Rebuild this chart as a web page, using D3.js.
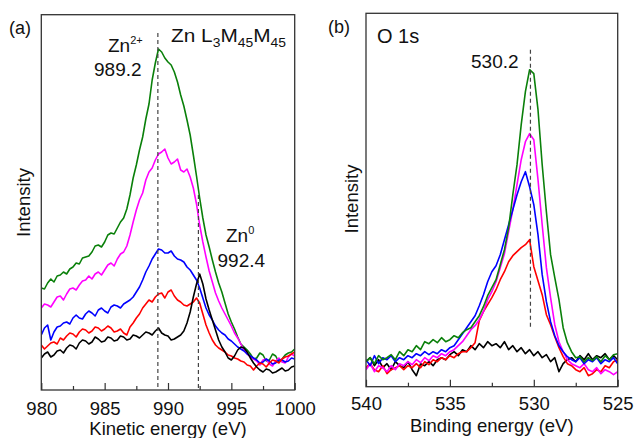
<!DOCTYPE html>
<html>
<head>
<meta charset="utf-8">
<script src="https://cdn.jsdelivr.net/npm/d3@7"></script>
<style>
  body { margin: 0; background: #fff; }
  svg { display: block; font-family: "Liberation Sans", Arial, sans-serif; }
</style>
</head>
<body>
<script>
// (a) Zn LMM Auger, kinetic energy grid 980..1000 eV, step 0.25
const energyA = d3.range(0, 81).map(i => 980 + i * 0.25);
const greenA   = [102,101,107,111,108,114,115,118,116,121,123,127,126,132,133,134,138,144,145,143,148,155,157,156,162,168,172,181,195,212,225,240,253,271,286,310,327,341,338,332,328,325,318,308,295,284,270,255,235,214,192,172,155,143,130,118,107,98,87,76,68,61,53,46,43,40,36,31,32,37,35,29,30,36,34,28,31,35,37,38,41];
const magentaA = [82,86,85,83,88,93,94,90,96,101,102,100,105,109,110,114,111,116,118,115,120,125,127,124,131,136,138,144,155,168,180,190,197,210,218,222,230,236,238,241,232,226,228,231,220,218,221,213,202,186,165,148,133,119,108,97,89,82,76,70,64,57,52,46,40,36,33,31,29,25,30,31,26,24,29,32,28,27,33,36,34];
const blueA    = [55,62,65,50,58,63,64,67,68,66,72,75,72,71,76,79,77,74,80,82,79,77,83,85,84,82,86,88,90,93,98,103,110,118,124,131,136,141,140,137,137,139,134,131,130,128,123,120,115,110,102,92,82,75,70,64,60,57,55,51,49,46,43,41,39,36,34,32,30,27,28,31,29,26,27,30,30,28,29,32,31];
const redA     = [45,41,44,47,48,46,52,50,54,57,56,53,58,61,60,57,59,63,62,59,61,64,62,58,59,61,57,55,63,67,72,76,82,86,90,88,93,96,97,92,98,100,94,90,88,85,84,86,88,92,87,76,65,57,50,45,42,40,38,35,34,32,31,29,28,25,24,20,24,27,26,23,27,30,29,27,31,33,34,36,38];
const blackA   = [32,36,38,33,35,39,40,37,42,45,44,41,47,50,49,46,48,53,51,48,49,53,52,49,50,54,53,50,51,55,54,52,55,58,57,55,59,62,57,55,54,50,51,53,55,59,67,78,93,106,116,106,91,80,70,60,50,43,38,32,30,34,40,43,42,38,32,27,23,20,18,21,20,17,18,20,22,19,20,23,24];
const ticksA = [980, 985, 990, 995, 1000];
const minorA = [982.5, 987.5, 992.5, 997.5];

// (b) O 1s, binding energy grid 540..525 eV, step 0.25
const energyB = d3.range(0, 61).map(i => 540 - i * 0.25);
const greenB   = [25,29,23,31,27,29,32,27,35,31,37,35,41,37,45,43,47,44,49,45,47,51,49,54,57,59,65,71,80,91,99,107,122,137,159,192,222,262,295,317,313,277,222,175,132,109,87,59,44,35,29,30,25,29,26,30,25,31,27,32,33];
const magentaB = [17,23,15,21,19,15,21,17,23,21,25,22,27,24,29,26,31,29,33,31,35,37,41,45,51,57,61,67,75,87,95,105,119,133,155,177,202,227,245,253,247,207,162,119,89,62,45,35,27,23,21,19,23,17,15,19,13,17,15,12,15];
const blueB    = [27,21,31,23,29,27,31,25,29,27,31,29,33,31,35,32,35,33,37,35,39,41,47,53,59,65,71,81,92,105,115,121,132,147,162,177,192,205,215,200,182,152,112,85,65,51,41,35,30,27,25,29,23,27,25,29,23,27,25,29,23];
const redB     = [19,23,17,15,21,13,17,19,21,17,21,19,23,19,25,22,27,25,29,27,31,29,33,35,35,39,44,66,75,82,89,97,107,115,125,131,135,139,142,147,120,106,92,72,62,50,39,30,23,21,17,15,19,11,13,17,15,21,19,25,27];
const blackB   = [25,29,21,27,19,23,17,25,21,19,25,17,11,23,21,25,21,27,29,27,32,35,31,37,35,41,37,43,39,45,41,43,39,45,37,41,35,39,33,37,31,35,29,32,25,29,15,23,27,29,25,31,27,33,27,31,29,33,27,31,27];
const ticksB = [540, 535, 530, 525];
const minorB = [537.5, 532.5, 527.5];

const svg = d3.select('body').append('svg')
  .attr('width', 635)
  .attr('height', 438);

function drawPanel(p) {
  const x = d3.scaleLinear().domain(p.xDomain).range([p.left, p.right]);
  const y = d3.scaleLinear().domain([0, p.yMax]).range([p.bottom, p.top]);
  const g = svg.append('g');

  g.append('clipPath').attr('id', p.id)
    .append('rect')
    .attr('x', p.left).attr('y', p.top)
    .attr('width', p.right - p.left).attr('height', p.bottom - p.top);

  const line = d3.line()
    .x((d, i) => x(p.energy[i]))
    .y(d => y(d));

  g.append('g').attr('clip-path', `url(#${p.id})`)
    .selectAll('path')
    .data(p.series)
    .enter().append('path')
    .attr('d', s => line(s.values))
    .attr('fill', 'none')
    .attr('stroke', s => s.color)
    .attr('stroke-width', 1.6)
    .attr('stroke-linejoin', 'round');

  // dashed peak markers
  p.marks.forEach(m => {
    g.append('line')
      .attr('x1', x(m.e)).attr('x2', x(m.e))
      .attr('y1', y(m.from)).attr('y2', y(m.to))
      .attr('stroke', '#444')
      .attr('stroke-width', 1.2)
      .attr('stroke-dasharray', '4,3');
  });

  const major = g.append('g')
    .attr('transform', `translate(0,${p.bottom})`)
    .call(d3.axisBottom(x).tickValues(p.ticks).tickSize(-7).tickSizeOuter(0)
      .tickPadding(p.pad).tickFormat(d3.format('d')));
  const minor = g.append('g')
    .attr('transform', `translate(0,${p.bottom})`)
    .call(d3.axisBottom(x).tickValues(p.minor).tickSize(-4).tickSizeOuter(0).tickFormat(''));
  [major, minor].forEach(a => {
    a.select('.domain').remove();
    a.selectAll('line').attr('stroke', '#333').attr('stroke-width', 1.2);
  });
  major.selectAll('text')
    .attr('fill', '#111')
    .style('font-size', '18.5px')
    .style('font-family', '"Liberation Sans", Arial, sans-serif');

  g.append('rect')
    .attr('x', p.left).attr('y', p.top)
    .attr('width', p.right - p.left).attr('height', p.bottom - p.top)
    .attr('fill', 'none')
    .attr('stroke', '#333')
    .attr('stroke-width', 1.3);

  g.append('text')
    .attr('x', (p.left + p.right) / 2).attr('y', p.titleY)
    .attr('text-anchor', 'middle')
    .style('font-size', '18.5px')
    .attr('fill', '#111')
    .text(p.xTitle);

  g.append('text')
    .attr('transform', `translate(${p.yLabelX},${p.yLabelY}) rotate(-90)`)
    .attr('text-anchor', 'middle')
    .style('font-size', '18.5px')
    .attr('fill', '#111')
    .text('Intensity');
}

drawPanel({
  id: 'clipA', energy: energyA, xDomain: [980, 1000], yMax: 375.3,
  left: 41.3, right: 294.7, top: 14.7, bottom: 390, pad: 12,
  ticks: ticksA, minor: minorA,
  series: [
    { color: '#0a800a', values: greenA },
    { color: '#ff00ff', values: magentaA },
    { color: '#0000ff', values: blueA },
    { color: '#ff0000', values: redA },
    { color: '#000000', values: blackA }
  ],
  marks: [{ e: 989.2, from: 357, to: 0 }, { e: 992.4, from: 195, to: 0 }],
  xTitle: 'Kinetic energy (eV)', titleY: 435,
  yLabelX: 29.5, yLabelY: 202.5
});

drawPanel({
  id: 'clipB', energy: energyB, xDomain: [540, 525], yMax: 373.4,
  left: 366, right: 617.7, top: 13.3, bottom: 386.7, pad: 10.5,
  ticks: ticksB, minor: minorB,
  series: [
    { color: '#000000', values: blackB },
    { color: '#ff0000', values: redB },
    { color: '#ff00ff', values: magentaB },
    { color: '#0000ff', values: blueB },
    { color: '#0a800a', values: greenB }
  ],
  marks: [{ e: 530.2, from: 337, to: 60 }],
  xTitle: 'Binding energy (eV)', titleY: 432.3,
  yLabelX: 357.5, yLabelY: 199
});

// annotations
function label(xp, yp, size, parts) {
  const t = svg.append('text')
    .attr('x', xp).attr('y', yp)
    .attr('fill', '#111')
    .style('font-size', size + 'px');
  parts.forEach(pt => {
    t.append('tspan')
      .attr('dy', pt.dy || 0)
      .style('font-size', (pt.size || size) + 'px')
      .text(pt.t);
  });
  return t;
}

label(9, 33.5, 18, [{ t: '(a)' }]);
label(328, 32.5, 18, [{ t: '(b)' }]);

label(171, 41.7, 18, [
  { t: 'Zn L' }, { t: '3', size: 12, dy: 5 }, { t: 'M', dy: -5 },
  { t: '45', size: 12, dy: 5 }, { t: 'M', dy: -5 }, { t: '45', size: 12, dy: 5 }
]).attr('textLength', 115).attr('lengthAdjust', 'spacingAndGlyphs');

label(108, 51.5, 19, [{ t: 'Zn' }, { t: '2+', size: 11, dy: -8 }]);
label(94, 76, 19, [{ t: '989.2' }]);
label(226, 241.7, 19, [{ t: 'Zn' }, { t: '0', size: 11, dy: -8 }]);
label(217.5, 266.5, 19, [{ t: '992.4' }]);

label(377, 42.5, 20, [{ t: 'O 1s' }]);
label(471, 68.3, 19, [{ t: '530.2' }]);
</script>
</body>
</html>
